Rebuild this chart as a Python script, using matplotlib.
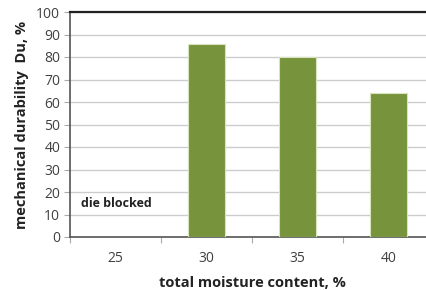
import matplotlib
matplotlib.use("Agg")
import matplotlib.pyplot as plt

categories = ["25", "30", "35", "40"]
values = [0, 86, 80, 64]
yticks = [0, 10, 20, 30, 40, 50, 60, 70, 80, 90, 100]

plt.rcParams['font.family'] = ['Open Sans', 'DejaVu Sans']

fig = plt.figure(figsize=(4.27, 2.90), dpi=100)
# axes: left 70px, right ~434px (cropped), top 12px, bottom 237px
ax = fig.add_axes([70/427, (290-237)/290, (434-70)/427, (237-12)/290])

x = list(range(len(categories)))
ax.bar(x[1:], values[1:], width=0.4, color="#77933C", edgecolor="#D7E4BD", linewidth=0.8, zorder=3)
ax.set_xlim(-0.5, len(categories) - 0.5)
ax.set_ylim(0, 100)
ax.set_yticks(yticks)
ax.set_yticklabels([str(v) for v in yticks], fontsize=10, color="#404040")
ax.set_xticks(x)
ax.set_xticklabels(categories, fontsize=10, color="#404040")
ax.tick_params(axis='x', length=0, pad=10)
ax.set_xticks([i + 0.5 for i in range(-1, len(categories))], minor=True)
ax.tick_params(axis='x', which='minor', length=4, color="#AAAAAA", width=0.8)
ax.tick_params(axis='y', length=4, color="#AAAAAA", width=0.8, pad=3)

ax.grid(axis='y', color="#CCCCCC", linewidth=1.0, zorder=0)
ax.set_axisbelow(True)

for side in ['left', 'bottom']:
    ax.spines[side].set_color("#555555")
    ax.spines[side].set_linewidth(1.2)
ax.spines['top'].set_color("#222222")
ax.spines['top'].set_linewidth(1.6)
ax.spines['right'].set_visible(False)

ax.text(-0.38, 15, "die blocked", fontsize=9, fontweight='bold', color="#222222",
        ha='left', va='center', transform=ax.transData)

ax.set_ylabel("mechanical durability  Du, %", fontsize=10.5, fontweight='bold', color="#222222", labelpad=5)
ax.set_xlabel("total moisture content, %", fontsize=10.5, fontweight='bold', color="#222222", labelpad=7)

fig.savefig("out.png", dpi=100)
